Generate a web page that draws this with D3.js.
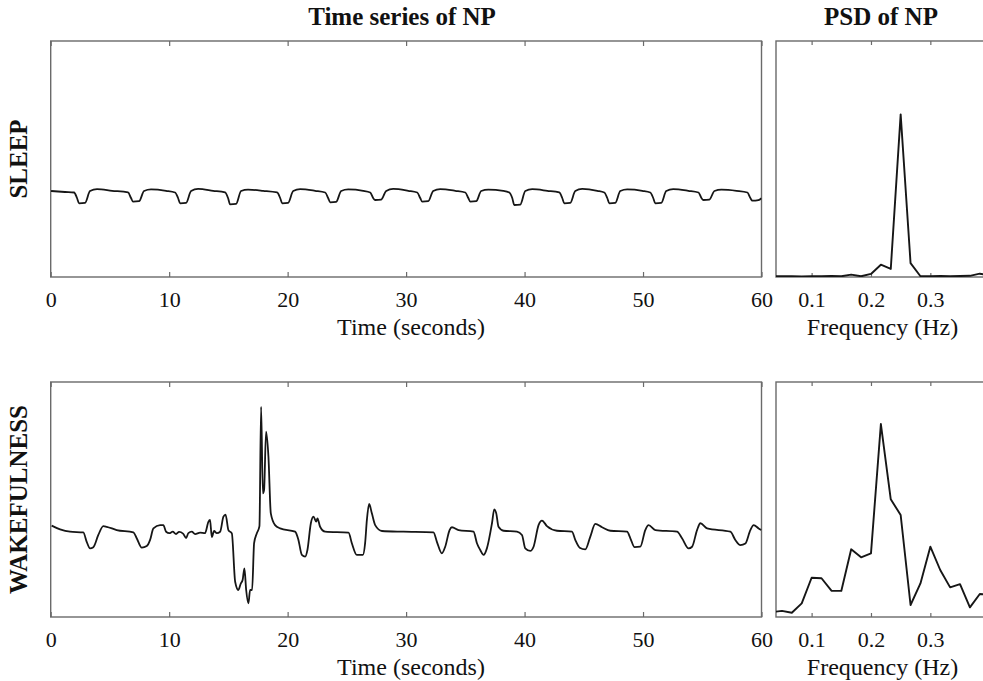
<!DOCTYPE html>
<html><head><meta charset="utf-8">
<script src="https://cdn.jsdelivr.net/npm/d3@7/dist/d3.min.js"></script>
<style>
body{margin:0;background:#fff;}
svg{display:block;}
text{font-family:"Liberation Serif","Times New Roman",serif;fill:#111;}
</style>
</head><body><svg id="c" width="983" height="681"></svg>
<script>
// ---------- data ----------
const timeTicks = [0, 10, 20, 30, 40, 50, 60];
const freqTicks = [0.1, 0.2, 0.3];
const rowLabels = ["SLEEP", "WAKEFULNESS"];
const columnTitles = ["Time series of NP", "PSD of NP"];

// Sleep: nasal pressure time series (arbitrary units, 0-100 panel scale)
const sleepTime = [0.03,1.21,
1.97,2.22,2.39,2.90,3.32,3.91,5.18,
6.53,6.78,6.95,7.46,7.88,8.47,9.74,
10.50,10.75,10.92,11.43,11.85,12.44,13.71,
14.72,14.97,15.14,15.65,16.07,16.66,17.93,
19.11,19.37,19.54,20.04,20.47,21.06,22.32,
23.17,23.42,23.59,24.10,24.52,25.11,26.38,
26.97,27.22,27.39,27.90,28.32,28.91,30.18,
30.94,31.19,31.36,31.87,32.29,32.88,34.15,
35.00,35.25,35.42,35.92,36.34,36.94,38.20,
38.71,38.96,39.13,39.64,40.06,40.65,41.92,
42.93,43.18,43.35,43.86,44.28,44.87,46.14,
46.73,46.98,47.15,47.66,48.08,48.67,49.94,
50.61,50.86,51.03,51.54,51.96,52.55,53.82,
54.68,54.93,55.10,55.60,56.03,56.62,57.89,
58.81,59.06,59.23,59.74,60.0];
const sleepValue = [36.44,36.02,
35.81,33.47,31.23,31.43,36.44,37.2,36.53,
35.81,33.47,31.91,32.11,36.44,37.1,36.53,
35.81,33.47,31.23,31.43,36.44,37.3,36.53,
35.81,33.47,30.81,31.01,36.44,37.0,36.53,
35.81,33.47,31.23,31.43,36.44,37.2,36.53,
35.81,33.47,31.65,31.85,36.44,37.1,36.53,
35.81,33.47,32.63,32.83,36.44,37.3,36.53,
35.81,33.47,31.91,32.11,36.44,37.2,36.53,
35.81,33.47,31.91,32.11,36.44,37.0,36.53,
35.81,33.47,30.51,30.71,36.44,37.2,36.53,
35.81,33.47,31.23,31.43,36.44,37.3,36.53,
35.81,33.47,31.23,31.43,36.44,37.1,36.53,
35.81,33.47,31.23,31.43,36.44,37.2,36.53,
35.81,33.47,32.63,32.83,36.44,37.0,36.53,
35.81,33.47,32.33,32.6,33.4];

// Wakefulness: nasal pressure time series
const wakeTime = [0.08,0.79,1.63,2.75,3.04,3.32,3.60,4.02,4.44,4.73,
5.57,6.98,7.26,7.69,8.11,8.39,8.67,9.23,9.51,9.74,
10.02,10.30,10.58,10.84,11.17,11.43,11.62,11.91,12.19,12.61,
13.03,13.31,13.45,13.60,13.79,14.02,14.30,14.58,14.76,15.00,
15.29,15.57,15.84,16.05,16.20,16.35,16.50,16.69,16.83,17.00,
17.17,17.40,17.62,17.76,17.91,18.01,18.18,18.38,18.58,18.94,
19.37,20.63,20.91,21.20,21.48,21.67,21.96,22.18,22.41,22.52,
22.74,23.17,25.14,25.42,25.84,26.35,26.54,26.69,26.88,27.11,
27.39,27.96,29.78,32.31,32.60,33.02,33.30,33.67,33.87,34.43,
35.69,35.98,36.26,36.54,36.82,37.25,37.44,37.61,37.80,38.23,
39.36,39.78,40.06,40.48,40.76,41.18,41.47,41.89,42.74,44.00,
44.28,44.65,45.13,45.55,45.97,46.54,47.24,48.65,48.93,49.29,
49.77,50.19,50.47,51.04,52.87,53.29,53.85,54.14,54.56,54.84,
55.41,57.37,57.79,58.22,58.64,59.06,59.34,59.76,59.99];
const wakeValue = [38.9,37.3,36.3,36.0,32.0,29.2,29.7,34.9,38.7,38.4,
37.0,36.0,33.5,29.5,30.2,32.8,37.7,39.1,39.1,36.3,
35.7,36.3,35.3,36.2,35.5,33.6,35.7,36.3,35.3,35.9,
35.7,40.5,41.3,34.0,36.6,35.7,36.3,42.7,43.6,37.0,
35.6,15.0,11.5,14.3,15.7,20.7,11.5,5.8,11.5,11.5,
31.4,35.6,38.7,89.5,52.6,54.0,78.9,68.2,44.1,39.1,
37.7,36.3,32.8,26.4,25.7,28.5,39.9,42.7,40.6,42.0,
38.4,36.3,35.9,31.4,26.4,26.4,31.4,41.3,48.1,44.1,
39.1,36.6,36.3,36.0,32.0,27.1,29.9,37.0,38.2,37.0,
36.3,31.4,28.5,26.4,29.2,39.9,45.8,44.1,38.4,36.7,
36.3,34.9,29.2,28.1,29.9,39.1,41.0,38.7,36.7,36.3,
32.8,29.5,28.8,34.2,39.6,38.2,36.7,36.3,33.5,29.7,
29.9,37.0,39.1,37.0,36.3,33.5,29.2,29.9,37.0,39.9,
37.7,36.3,32.8,30.6,31.3,37.0,39.1,37.7,37.0];

// PSD (frequency bins k/60 Hz, k = 2..24), normalized power
const psdFreq = [2,3,4,5,6,7,8,9,10,11,12,13,14,15,16,17,18,19,20,21,22,23,24].map(k => k / 60);
const psdSleep = [0.004,0.003,0.003,0.002,0.003,0.003,0.004,0.003,0.010,0.003,0.013,0.052,0.034,0.689,0.059,0.003,0.003,0.004,0.003,0.004,0.005,0.014,0.006];
const psdWake = [0.021,0.026,0.018,0.058,0.167,0.165,0.112,0.111,0.288,0.254,0.271,0.821,0.501,0.434,0.051,0.143,0.299,0.200,0.126,0.140,0.041,0.098,0.095];

// ---------- layout ----------
const svg = d3.select("#c");
const tsX = d3.scaleLinear().domain([0, 60]).range([50.7, 761.5]);
const fX = d3.scaleLinear().domain([0.04, 0.4]).range([776, 989.7]);
const rows = [
  {top: 41, bottom: 277, label: rowLabels[0], ts: d3.zip(sleepTime, sleepValue), psd: d3.zip(psdFreq, psdSleep)},
  {top: 382, bottom: 617, label: rowLabels[1], ts: d3.zip(wakeTime, wakeValue), psd: d3.zip(psdFreq, psdWake)}
];
const boxColor = "#6a6a6a";
const lineColor = "#161616";

// column titles
svg.append("text").attr("x", 402).attr("y", 25).attr("text-anchor", "middle")
  .attr("font-size", 25).attr("font-weight", "bold").text(columnTitles[0]);
svg.append("text").attr("x", 881).attr("y", 25).attr("text-anchor", "middle")
  .attr("font-size", 25).attr("font-weight", "bold").text(columnTitles[1]);

rows.forEach((r, i) => {
  const yTs = d3.scaleLinear().domain([0, 100]).range([r.bottom, r.top]);
  const yPsd = d3.scaleLinear().domain([0, 1]).range([r.bottom, r.top]);

  // clip paths
  const cid1 = "clipTs" + i, cid2 = "clipPsd" + i;
  const defs = svg.append("defs");
  defs.append("clipPath").attr("id", cid1).append("rect")
    .attr("x", tsX.range()[0]).attr("y", r.top).attr("width", tsX.range()[1] - tsX.range()[0]).attr("height", r.bottom - r.top);
  defs.append("clipPath").attr("id", cid2).append("rect")
    .attr("x", fX.range()[0]).attr("y", r.top).attr("width", fX.range()[1] - fX.range()[0]).attr("height", r.bottom - r.top);

  // row label
  svg.append("text")
    .attr("transform", `translate(27,${(r.top + r.bottom) / 2}) rotate(-90)`)
    .attr("text-anchor", "middle").attr("font-size", 25).attr("font-weight", "bold")
    .text(r.label);

  // ----- time series panel -----
  const gb = svg.append("g").attr("transform", `translate(0,${r.bottom})`)
    .call(d3.axisBottom(tsX).tickValues(timeTicks).tickSizeInner(-5).tickSizeOuter(0).tickPadding(14).tickFormat(d3.format("d")));
  gb.select(".domain").remove();
  gb.selectAll(".tick line").attr("stroke", boxColor).attr("stroke-width", 1.2);
  gb.selectAll(".tick text").attr("font-size", 22).attr("fill", "#111").style("font-family", '"Liberation Serif",serif');

  const gt = svg.append("g").attr("transform", `translate(0,${r.top})`)
    .call(d3.axisTop(tsX).tickValues(timeTicks).tickSizeInner(-5).tickSizeOuter(0).tickFormat(""));
  gt.select(".domain").remove();
  gt.selectAll(".tick line").attr("stroke", boxColor).attr("stroke-width", 1.2);

  svg.append("rect").attr("x", tsX.range()[0]).attr("y", r.top)
    .attr("width", tsX.range()[1] - tsX.range()[0]).attr("height", r.bottom - r.top)
    .attr("fill", "none").attr("stroke", boxColor).attr("stroke-width", 1.4);

  svg.append("path").datum(r.ts)
    .attr("clip-path", `url(#${cid1})`)
    .attr("fill", "none").attr("stroke", lineColor).attr("stroke-width", 1.8)
    .attr("stroke-linejoin", "round")
    .attr("d", d3.line().curve(d3.curveMonotoneX).x(d => tsX(d[0])).y(d => yTs(d[1])));

  svg.append("text").attr("x", 411).attr("y", r.bottom + 58).attr("text-anchor", "middle")
    .attr("font-size", 24).text("Time (seconds)");

  // ----- PSD panel -----
  const pb = svg.append("g").attr("transform", `translate(0,${r.bottom})`)
    .call(d3.axisBottom(fX).tickValues(freqTicks).tickSizeInner(-4).tickSizeOuter(0).tickPadding(14).tickFormat(d3.format(".1f")));
  pb.select(".domain").remove();
  pb.selectAll(".tick line").attr("stroke", boxColor).attr("stroke-width", 1.2);
  pb.selectAll(".tick text").attr("font-size", 22).attr("fill", "#111").style("font-family", '"Liberation Serif",serif');

  const pt = svg.append("g").attr("transform", `translate(0,${r.top})`)
    .call(d3.axisTop(fX).tickValues(freqTicks).tickSizeInner(-4).tickSizeOuter(0).tickFormat(""));
  pt.select(".domain").remove();
  pt.selectAll(".tick line").attr("stroke", boxColor).attr("stroke-width", 1.2);

  svg.append("rect").attr("x", fX.range()[0]).attr("y", r.top)
    .attr("width", fX.range()[1] - fX.range()[0]).attr("height", r.bottom - r.top)
    .attr("fill", "none").attr("stroke", boxColor).attr("stroke-width", 1.4);

  svg.append("path").datum(r.psd)
    .attr("clip-path", `url(#${cid2})`)
    .attr("fill", "none").attr("stroke", lineColor).attr("stroke-width", 1.9)
    .attr("stroke-linejoin", "round")
    .attr("d", d3.line().x(d => fX(d[0])).y(d => yPsd(d[1])));

  svg.append("text").attr("x", 882.5).attr("y", r.bottom + 58).attr("text-anchor", "middle")
    .attr("font-size", 24).text("Frequency (Hz)");
});
</script>
</body></html>
